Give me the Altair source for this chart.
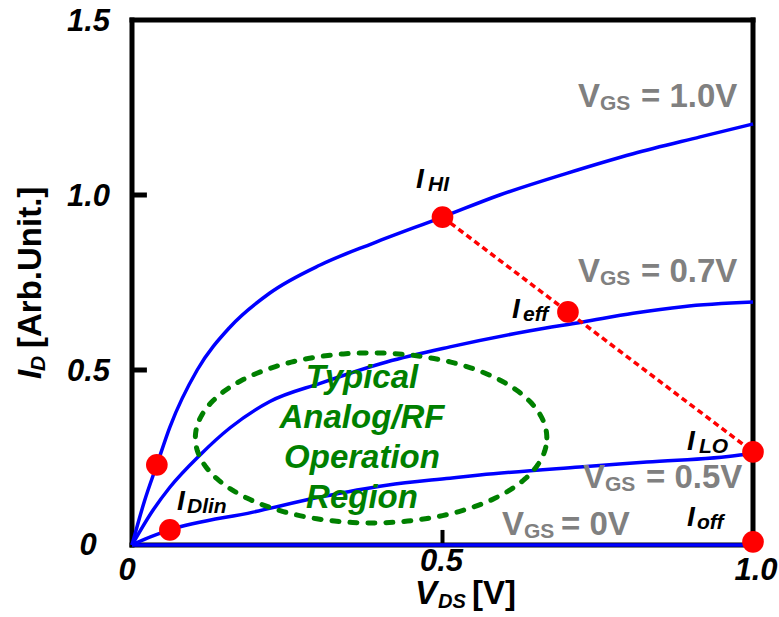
import altair as alt
import numpy as np
import pandas as pd

# ---------------- data ----------------
vds_10 = [0, 0.02, 0.04, 0.061, 0.105, 0.158, 0.222, 0.303, 0.388, 0.5, 0.592, 0.70, 0.807, 0.915, 1.0]
id_10 = [0, 0.125, 0.229, 0.337, 0.50, 0.623, 0.72, 0.80, 0.862, 0.937, 1.0, 1.062, 1.118, 1.166, 1.203]

vds_07 = [0, 0.034, 0.061, 0.11, 0.158, 0.222, 0.303, 0.41, 0.512, 0.641, 0.726, 0.807, 0.887, 1.0]
id_07 = [0, 0.10, 0.165, 0.258, 0.335, 0.41, 0.462, 0.523, 0.566, 0.612, 0.637, 0.662, 0.681, 0.694]

vds_05 = [0, 0.02, 0.061, 0.195, 0.303, 0.41, 0.512, 0.56, 0.721, 0.829, 0.979, 1.0]
id_05 = [0, 0.016, 0.043, 0.094, 0.137, 0.171, 0.191, 0.20, 0.223, 0.237, 0.257, 0.263]

vds_00 = [0, 1.0]
id_00 = [0, 0]

dot_x = [0.04, 0.061, 0.5, 0.702, 1.0, 1.0]
dot_y = [0.229, 0.043, 0.937, 0.666, 0.266, 0.009]

link_x = [0.5, 1.0]
link_y = [0.937, 0.266]

ell_c = [0.385, 0.306]
ell_r = [0.283, 0.243]

x_ticks = [0.5]
y_ticks = [0.5, 1.0]
x_tick_labels = ["0", "0.5", "1.0"]
x_tick_vals = [0, 0.5, 1.0]
y_tick_labels = ["0", "0.5", "1.0", "1.5"]
y_tick_vals = [0, 0.5, 1.0, 1.5]

# ---------------- layout ----------------
W, H = 621, 525
L, T = 132, 20
FONT = "Liberation Sans"
BLUE = "#0000FF"
RED = "#FF0000"
GREEN = "#008000"
GRAY = "#808080"

xs = alt.Scale(domain=[0, 1], nice=False, zero=False)
ys = alt.Scale(domain=[0, 1.5], nice=False, zero=False)
one = pd.DataFrame({"a": [0]})


def X(field=None, **kw):
    if field is None:
        return alt.X(scale=xs, axis=None, **kw)
    return alt.X(field, scale=xs, axis=None, **kw)


def Y(field=None, **kw):
    if field is None:
        return alt.Y(scale=ys, axis=None, **kw)
    return alt.Y(field, scale=ys, axis=None, **kw)


def txt(text, px, py, size, color="black", italic=True, bold=True, align="left", angle=None):
    kw = dict(text=text, font=FONT, fontSize=size, color=color,
              fontStyle="italic" if italic else "normal",
              fontWeight="bold" if bold else "normal",
              align=align, baseline="alphabetic")
    if angle is not None:
        kw["angle"] = angle
    return alt.Chart(one).mark_text(**kw).encode(x=alt.value(px - L), y=alt.value(py - T))


layers = []

# frame
for enc in [dict(x=X(datum=0), y=Y(datum=0), y2=alt.Y2(datum=1.5)),
            dict(x=X(datum=1), y=Y(datum=0), y2=alt.Y2(datum=1.5)),
            dict(x=X(datum=0), x2=alt.X2(datum=1), y=Y(datum=1.5)),
            dict(x=X(datum=0), x2=alt.X2(datum=1), y=Y(datum=0))]:
    layers.append(alt.Chart(one).mark_rule(color="black", strokeWidth=5, strokeCap="square").encode(**enc))

# ticks (inward)
layers.append(alt.Chart(pd.DataFrame({"v": y_ticks})).mark_rule(color="black", strokeWidth=5).encode(
    x=X(datum=0), x2=alt.X2(datum=0.024), y=Y("v:Q")))
layers.append(alt.Chart(pd.DataFrame({"v": x_ticks})).mark_rule(color="black", strokeWidth=4).encode(
    x=X("v:Q"), y=Y(datum=0), y2=alt.Y2(datum=0.043)))

# curves
rows = []
for name, xv, yv in [("1.0", vds_10, id_10), ("0.7", vds_07, id_07), ("0.5", vds_05, id_05), ("0", vds_00, id_00)]:
    for i, (a, b) in enumerate(zip(xv, yv)):
        rows.append({"series": name, "i": i, "vds": a, "id": b})
curves = pd.DataFrame(rows)
layers.append(alt.Chart(curves).mark_line(color=BLUE, strokeWidth=3.5, interpolate="monotone").encode(
    x=X("vds:Q"), y=Y("id:Q"), detail="series:N", order="i:Q"))

# ellipse (operation region outline)
t = np.linspace(0, 2 * np.pi, 241)
ell = pd.DataFrame({"i": np.arange(len(t)),
                    "x": ell_c[0] + ell_r[0] * np.cos(t),
                    "y": ell_c[1] + ell_r[1] * np.sin(t)})
layers.append(alt.Chart(ell).mark_line(color=GREEN, strokeWidth=5, strokeDash=[7, 11], strokeCap="round").encode(
    x=X("x:Q"), y=Y("y:Q"), order="i:Q"))

# green text
for k, line in enumerate(["Typical", "Analog/RF", "Operation", "Region"]):
    layers.append(txt(line, 362, 388 + k * 40, 33, color=GREEN, align="center"))

# red dotted link
layers.append(alt.Chart(pd.DataFrame({"x": link_x, "y": link_y})).mark_line(
    color=RED, strokeWidth=3.5, strokeDash=[6, 4]).encode(x=X("x:Q"), y=Y("y:Q")))

# red dots
layers.append(alt.Chart(pd.DataFrame({"x": dot_x, "y": dot_y})).mark_circle(
    color=RED, size=470, opacity=1).encode(x=X("x:Q"), y=Y("y:Q")))

# tick labels
for v, lab in zip(x_tick_vals, x_tick_labels):
    dy = 35 if v != 0.5 else 26
    dx = {0: -5, 0.5: -1, 1.0: 3}[v]
    layers.append(alt.Chart(one).mark_text(text=lab, font=FONT, fontSize=31, fontStyle="italic",
                                           fontWeight="bold", align="center", baseline="alphabetic",
                                           dx=dx, dy=dy).encode(x=X(datum=v), y=Y(datum=0)))
for v, lab in zip(y_tick_vals, y_tick_labels):
    if v == 0:
        layers.append(alt.Chart(one).mark_text(text=lab, font=FONT, fontSize=31, fontStyle="italic",
                                               fontWeight="bold", align="center", baseline="alphabetic",
                                               dy=10).encode(x=alt.value(88 - L), y=Y(datum=v)))
    else:
        layers.append(alt.Chart(one).mark_text(text=lab, font=FONT, fontSize=31, fontStyle="italic",
                                               fontWeight="bold", align="right", baseline="alphabetic",
                                               dy=11).encode(x=alt.value(110 - L), y=Y(datum=v)))

# axis titles
layers.append(txt("V", 415, 604, 33))
layers.append(txt("DS", 438, 608, 20))
layers.append(txt("[V]", 472, 604, 33, italic=False))
layers.append(txt("I", 41, 379, 33, angle=270))
layers.append(txt("D", 45, 371, 21, angle=270))
layers.append(txt("[Arb.Unit.]", 41, 348, 33, italic=False, angle=270))

# VGS labels
for vx, vy, sx, val in [(578, 107, 641, "= 1.0V"), (578, 282, 641, "= 0.7V"),
                        (583, 488, 646, "= 0.5V"), (502, 535, 561, "= 0V")]:
    layers.append(txt("V", vx, vy, 33, color=GRAY, italic=False))
    layers.append(txt("GS", vx + 22, vy + 3, 21, color=GRAY, italic=False))
    layers.append(txt(val, sx, vy, 33, color=GRAY, italic=False))

# current labels
for ix, iy, sub, subx in [(416, 188, "HI", 428), (512, 318, "eff", 523), (687, 450, "LO", 699),
                          (687, 526, "off", 697), (177, 510, "Dlin", 187)]:
    layers.append(txt("I", ix, iy, 28))
    layers.append(txt(sub, subx, iy + 3, 21))

chart = alt.layer(*layers).properties(
    width=W, height=H,
    padding={"left": L, "top": T, "right": 779 - L - W, "bottom": 617 - T - H},
    autosize=alt.AutoSizeParams(type="none"),
).configure_view(stroke=None)

chart.save("out.html", embed_options={"renderer": "svg", "actions": False})
